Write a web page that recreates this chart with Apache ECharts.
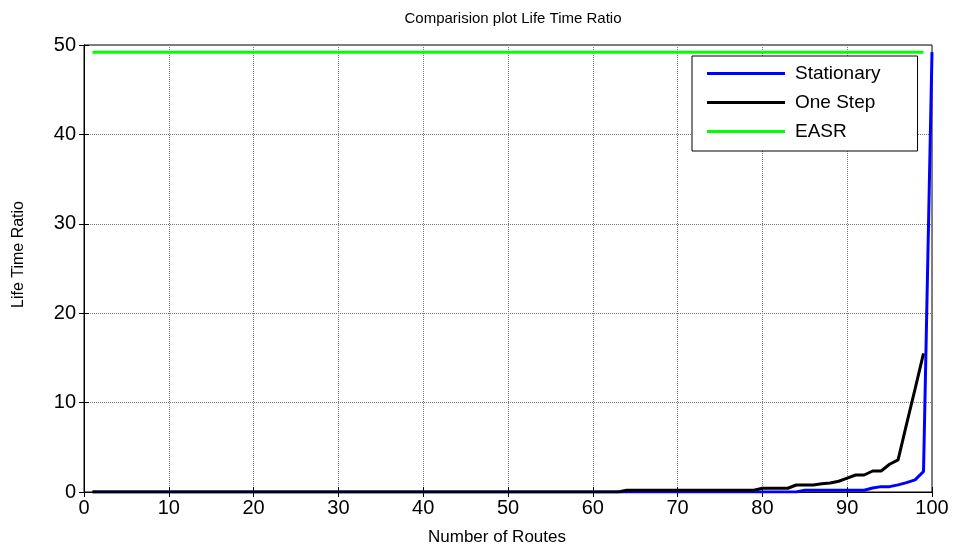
<!DOCTYPE html>
<html>
<head>
<meta charset="utf-8">
<script src="https://cdn.jsdelivr.net/npm/echarts@6/dist/echarts.min.js"></script>
<style>
  html, body { margin: 0; padding: 0; background: #fff; }
  #chart { width: 954px; height: 546px; }
</style>
</head>
<body>
<div id="chart"></div>
<script>
  // values, one per route (route = index + 1)
  var stationary = [
    0, 0, 0, 0, 0, 0, 0, 0, 0, 0, 0, 0, 0, 0, 0, 0, 0, 0, 0, 0,
    0, 0, 0, 0, 0, 0, 0, 0, 0, 0, 0, 0, 0, 0, 0, 0, 0, 0, 0, 0,
    0, 0, 0, 0, 0, 0, 0, 0, 0, 0, 0, 0, 0, 0, 0, 0, 0, 0, 0, 0,
    0, 0, 0, 0, 0, 0, 0, 0, 0, 0, 0, 0, 0, 0, 0, 0, 0, 0, 0, 0,
    0, 0, 0, 0, 0.2, 0.2, 0.2, 0.2, 0.2, 0.2, 0.2, 0.2, 0.45, 0.6, 0.6, 0.8, 1.05, 1.35, 2.3, 49.2
  ]
  var oneStep = [
    0, 0, 0, 0, 0, 0, 0, 0, 0, 0, 0, 0, 0, 0, 0, 0, 0, 0, 0, 0,
    0, 0, 0, 0, 0, 0, 0, 0, 0, 0, 0, 0, 0, 0, 0, 0, 0, 0, 0, 0,
    0, 0, 0, 0, 0, 0, 0, 0, 0, 0, 0, 0, 0, 0, 0, 0, 0, 0, 0, 0,
    0, 0, 0, 0.2, 0.2, 0.2, 0.2, 0.2, 0.2, 0.2, 0.2, 0.2, 0.2, 0.2, 0.2, 0.2, 0.2, 0.2, 0.2, 0.42,
    0.42, 0.42, 0.42, 0.78, 0.78, 0.78, 0.93, 1.0, 1.2, 1.55, 1.9, 1.9, 2.35, 2.35, 3.1, 3.6, 7.6, 11.5, 15.5
  ]
  var easr = [
    49.2, 49.2, 49.2, 49.2, 49.2, 49.2, 49.2, 49.2, 49.2, 49.2, 49.2, 49.2, 49.2, 49.2, 49.2, 49.2, 49.2, 49.2, 49.2, 49.2,
    49.2, 49.2, 49.2, 49.2, 49.2, 49.2, 49.2, 49.2, 49.2, 49.2, 49.2, 49.2, 49.2, 49.2, 49.2, 49.2, 49.2, 49.2, 49.2, 49.2,
    49.2, 49.2, 49.2, 49.2, 49.2, 49.2, 49.2, 49.2, 49.2, 49.2, 49.2, 49.2, 49.2, 49.2, 49.2, 49.2, 49.2, 49.2, 49.2, 49.2,
    49.2, 49.2, 49.2, 49.2, 49.2, 49.2, 49.2, 49.2, 49.2, 49.2, 49.2, 49.2, 49.2, 49.2, 49.2, 49.2, 49.2, 49.2, 49.2, 49.2,
    49.2, 49.2, 49.2, 49.2, 49.2, 49.2, 49.2, 49.2, 49.2, 49.2, 49.2, 49.2, 49.2, 49.2, 49.2, 49.2, 49.2, 49.2, 49.2
  ]
  var xTicks = [0, 10, 20, 30, 40, 50, 60, 70, 80, 90, 100]
  var yTicks = [0, 10, 20, 30, 40, 50]

  var font = 'Liberation Sans, Arial, sans-serif'

  function toPairs (arr) {
    return arr.map(function (v, i) { return [i + 1, v] })
  }

  var tickStyle = { show: true, inside: true, length: 5, lineStyle: { color: '#000', width: 1 } }

  var chart = echarts.init(document.getElementById('chart'))
  chart.setOption({
    animation: false,
    backgroundColor: '#fff',
    title: {
      text: 'Comparision plot Life Time Ratio',
      left: 508,
      textAlign: 'center',
      top: 6,
      textStyle: { fontFamily: font, fontSize: 15, fontWeight: 'normal', color: '#000' }
    },
    grid: {
      left: 84, right: 22, top: 45, bottom: 54,
      outerBoundsMode: 'none',
      containLabel: false,
      show: true, borderColor: '#000', borderWidth: 1, backgroundColor: '#fff'
    },
    legend: {
      orient: 'vertical',
      left: 692,
      top: 56,
      icon: 'rect',
      itemWidth: 78,
      itemHeight: 3,
      itemGap: 0,
      padding: [3, 37, 5, 15],
      borderColor: '#000',
      borderWidth: 1,
      backgroundColor: '#fff',
      textStyle: { fontFamily: font, fontSize: 19, color: '#000', lineHeight: 29, padding: [0, 0, 0, 5] },
      data: ['Stationary', 'One Step', 'EASR']
    },
    xAxis: [{
      type: 'value',
      min: xTicks[0],
      max: xTicks[xTicks.length - 1],
      interval: 10,
      name: 'Number of Routes',
      nameLocation: 'middle',
      nameGap: 37,
      nameTextStyle: { fontFamily: font, fontSize: 17, color: '#000', padding: [0, 22, 0, 0] },
      axisLine: { show: true, lineStyle: { color: '#000', width: 1 } },
      axisTick: tickStyle,
      axisLabel: { fontFamily: font, fontSize: 20, color: '#000', margin: 6 },
      splitLine: { show: true, lineStyle: { type: 'dotted', color: '#777', width: 1 } }
    }, {
      type: 'value',
      position: 'top',
      min: xTicks[0],
      max: xTicks[xTicks.length - 1],
      interval: 10,
      axisLine: { show: true, lineStyle: { color: '#000', width: 1 } },
      axisTick: tickStyle,
      axisLabel: { show: false },
      splitLine: { show: false }
    }],
    yAxis: [{
      type: 'value',
      min: yTicks[0],
      max: yTicks[yTicks.length - 1],
      interval: 10,
      name: 'Life Time Ratio',
      nameLocation: 'middle',
      nameGap: 57,
      nameTextStyle: { fontFamily: font, fontSize: 16, color: '#000', padding: [0, 0, 0, 28] },
      axisLine: { show: true, lineStyle: { color: '#000', width: 1 } },
      axisTick: tickStyle,
      axisLabel: { fontFamily: font, fontSize: 20, color: '#000', margin: 8 },
      splitLine: { show: true, lineStyle: { type: 'dotted', color: '#777', width: 1 } }
    }, {
      type: 'value',
      position: 'right',
      min: yTicks[0],
      max: yTicks[yTicks.length - 1],
      interval: 10,
      axisLine: { show: true, lineStyle: { color: '#000', width: 1 } },
      axisTick: tickStyle,
      axisLabel: { show: false },
      splitLine: { show: false }
    }],
    series: [{
      name: 'Stationary',
      type: 'line',
      symbol: 'none',
      color: '#0000ff',
      lineStyle: { color: '#0000ff', width: 3 },
      data: toPairs(stationary)
    }, {
      name: 'One Step',
      type: 'line',
      symbol: 'none',
      color: '#000',
      lineStyle: { color: '#000', width: 3 },
      data: toPairs(oneStep)
    }, {
      name: 'EASR',
      type: 'line',
      symbol: 'none',
      color: '#00ff00',
      lineStyle: { color: '#00ff00', width: 3 },
      data: toPairs(easr)
    }]
  })
</script>
</body>
</html>
